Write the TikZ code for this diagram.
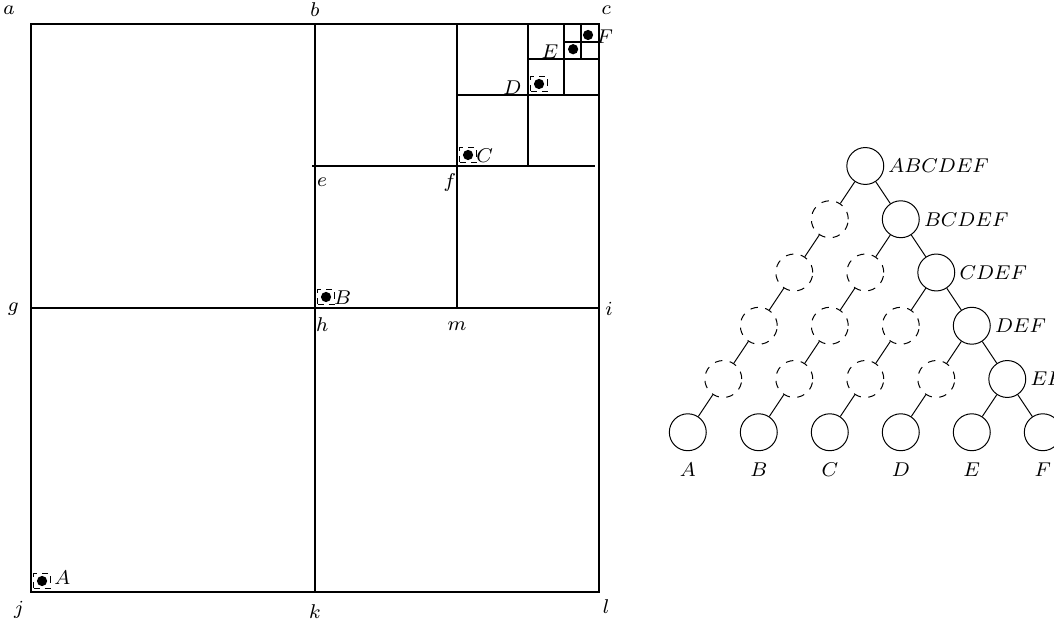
\documentclass[tikz,border=0pt]{standalone}
\usetikzlibrary{arrows.meta}
\tikzset{
  wall/.style={thick},
  probe/.style={draw, dash pattern=on 2.5pt off 2pt, minimum width=0.24cm, minimum height=0.2cm, inner sep=0pt},
  dot/.style={fill=black},
  cell/.style={circle, draw, minimum size=0.52cm, inner sep=0pt},
  ghost/.style={cell, dashed},
  tag/.style={font=\footnotesize, inner sep=1.5pt}
}
\begin{document}
\begin{tikzpicture}[font=\footnotesize]
  \useasboundingbox (-0.437,-0.394) rectangle (14.408,8.338);
  % subdivided square
  \draw[wall] (0,0) rectangle (8,8);
  \draw[wall] (4,0) -- (4,8);
  \draw[wall] (0,4) -- (8,4);
  \draw[wall] (3.96,6) -- (7.95,6);
  \draw[wall] (6,4) -- (6,8);
  \draw[wall] (6,7) -- (8,7);
  \draw[wall] (7,6) -- (7,8);
  \draw[wall] (7,7.5) -- (8,7.5);
  \draw[wall] (7.5,7) -- (7.5,8);
  \draw[wall] (7.5,7.75) -- (8,7.75);
  \draw[wall] (7.75,7.5) -- (7.75,8);
  % corner letters
  \node at (-0.31,8.2) {$a$};
  \node at (4,8.2) {$b$};
  \node at (8.1,8.2) {$c$};
  \node at (-0.25,3.99) {$g$};
  \node at (8.14,3.99) {$i$};
  \node at (4.1,3.76) {$h$};
  \node at (6,3.75) {$m$};
  \node at (4.1,5.77) {$e$};
  \node at (5.9,5.77) {$f$};
  \node at (-0.17,-0.25) {$j$};
  \node at (4,-0.27) {$k$};
  \node at (8.1,-0.21) {$l$};
  % points
  \node[probe] (pA) at (0.155,0.155) {};
  \node[probe] (pB) at (4.155,4.155) {};
  \node[probe] (pC) at (6.155,6.155) {};
  \node[probe] (pD) at (7.155,7.155) {};
  \coordinate (pE) at (7.635,7.645);
  \coordinate (pF) at (7.845,7.845);
  \foreach \p in {pA,pB,pC,pD,pE,pF} \fill[dot] (\p) circle (0.072);
  \node at (0.44,0.2) {$A$};
  \node at (4.39,4.15) {$B$};
  \node at (6.39,6.15) {$C$};
  \node at (6.78,7.11) {$D$};
  \node at (7.31,7.61) {$E$};
  \node at (8.08,7.82) {$F$};
  % tree
  \foreach \L/\txt in {0/ABCDEF,1/BCDEF,2/CDEF,3/DEF,4/EF}
    \node[cell, label={[tag]right:$\txt$}] (n\L\L) at ({11.75+0.5*\L},{6-0.75*\L}) {};
  \foreach \L in {1,...,4} {
    \pgfmathtruncatemacro\m{\L-1}
    \foreach \k in {0,...,\m}
      \node[ghost] (n\L\k) at ({11.75+0.5*(2*\k-\L)},{6-0.75*\L}) {};
  }
  \foreach \k/\txt in {0/A,1/B,2/C,3/D,4/E,5/F}
    \node[cell, label={[tag,label distance=1mm]below:$\txt$}] (n5\k) at ({11.75+0.5*(2*\k-5)},2.25) {};
  \foreach \L in {0,...,4} {
    \pgfmathtruncatemacro\nx{\L+1}
    \foreach \k in {0,...,\L} \draw (n\L\k) -- (n\nx\k);
    \draw (n\L\L) -- (n\nx\nx);
  }
\end{tikzpicture}
\end{document}
